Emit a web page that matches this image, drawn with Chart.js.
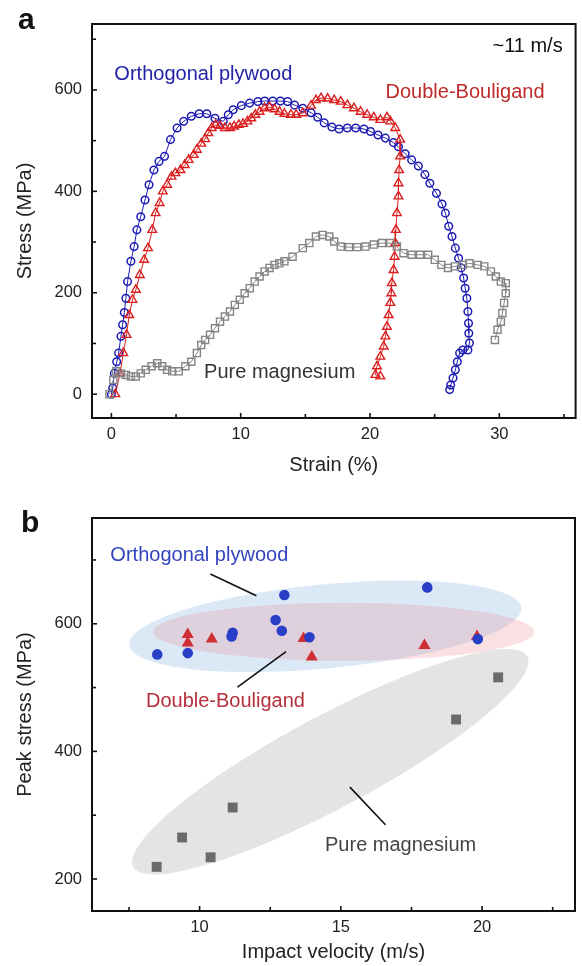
<!DOCTYPE html>
<html><head><meta charset="utf-8">
<script src="https://cdn.jsdelivr.net/npm/chart.js@4.4.1/dist/chart.umd.min.js"></script>
<style>
html,body{margin:0;padding:0;background:#fff;}
#wrap{position:relative;width:582px;height:966px;overflow:hidden;}
canvas{position:absolute;left:0;}
</style></head><body>
<div id="wrap">
<canvas id="ca" width="582" height="483" style="top:0"></canvas>
<canvas id="cb" width="582" height="483" style="top:483px"></canvas>
</div>
<script>
// ---------- Panel a: stress-strain curves (~11 m/s) ----------
const orthoStrain = [0,0.10,0.23,0.41,0.56,0.74,0.87,1.0,1.12,1.25,1.51,1.76,1.97,2.27,2.60,2.91,3.29,3.68,4.11,4.57,5.08,5.59,6.18,6.79,7.38,8.01,8.65,9.04,9.42,10.05,10.69,11.33,11.85,12.48,13.07,13.63,14.17,14.80,15.44,15.95,16.46,17.05,17.61,18.25,18.89,19.53,20.04,20.62,21.19,21.82,22.2,22.72,23.22,23.74,24.25,24.63,25.14,25.57,25.83,26.09,26.34,26.60,26.85,27.05,27.24,27.36,27.49,27.57,27.62,27.64,27.69,27.57,27.18,26.93,26.75,26.6,26.42,26.24,26.16];
const orthoStress = [0,12,41,64,81,114,137,161,189,222,262,291,324,350,383,413,442,459,469,502,525,538,548,553,553,544,538,551,561,569,574,577,578,578,578,577,570,564,555,546,535,527,523,525,525,523,518,511,505,496,488,474,462,450,433,416,396,375,357,331,311,288,268,249,229,209,189,163,140,120,101,87,87,81,64,48,32,18,9];

const dbStrain = [0.3,0.67,0.92,1.17,1.38,1.63,1.89,2.20,2.53,2.83,3.16,3.42,3.73,3.98,4.31,4.65,4.95,5.34,5.67,5.97,6.36,6.61,6.95,7.25,7.50,7.76,8.06,8.40,8.78,9.17,9.49,9.85,10.18,10.52,10.82,11.13,11.46,11.85,12.23,12.61,13.0,13.38,13.89,14.29,14.80,15.44,15.82,16.21,16.72,17.23,17.74,18.25,18.76,19.27,19.78,20.29,20.80,21.31,21.57,21.95,22.33,22.33,22.25,22.2,22.2,22.08,22.0,21.95,21.9,21.82,21.69,21.65,21.57,21.44,21.31,21.19,21.06,20.80,20.54,20.42,20.80];
const dbStress = [0,41,81,117,156,186,206,235,265,288,324,357,377,400,413,429,436,442,452,462,472,482,494,503,515,525,531,529,525,525,528,531,533,538,544,551,557,564,566,562,557,553,551,551,554,569,580,584,583,580,577,570,564,557,551,546,541,546,538,525,502,469,442,416,390,357,324,298,271,245,219,199,180,156,133,114,94,74,55,38,35];

const mgStrain = [-0.15,0.15,0.36,0.74,1.12,1.51,1.89,2.27,2.66,3.11,3.55,3.93,4.31,4.70,5.21,5.72,6.18,6.61,6.95,7.25,7.63,8.01,8.40,8.78,9.17,9.55,9.93,10.31,10.70,11.08,11.46,11.85,12.23,12.61,12.99,13.38,14.01,14.80,15.31,15.82,16.33,16.85,17.23,17.74,18.38,19.01,19.65,20.29,20.93,21.57,22.08,22.59,23.22,23.87,24.50,25.01,25.52,26.03,26.55,27.18,27.69,28.33,28.84,29.35,29.73,30.12,30.50,30.50,30.37,30.24,30.12,29.86,29.66];
const mgStress = [0,28,45,41,38,35,35,41,48,55,61,55,48,45,45,55,64,81,97,107,117,130,143,153,163,176,186,199,209,222,232,242,249,255,258,262,271,288,298,311,314,311,301,291,290,290,291,295,298,298,291,278,275,275,275,265,255,249,252,255,258,255,252,242,232,222,219,199,180,160,143,127,107];

const strainTicks = [0, 10, 20, 30];
const stressTicks = [0, 200, 400, 600];

// ---------- Panel b: peak stress vs impact velocity ----------
const orthoVel  = [8.50, 9.58, 11.13, 11.17, 12.69, 12.91, 13.00, 13.89, 18.06, 19.85];
const orthoPeak = [552, 554, 580, 586, 606, 589, 645, 579, 657, 576];
const dbVel  = [9.58, 9.58, 10.43, 13.68, 13.97, 17.96, 19.82];
const dbPeak = [583, 570, 576, 577, 548, 566, 580];
const mgVel  = [8.48, 9.38, 10.39, 11.17, 19.08, 20.57];
const mgPeak = [219, 265, 234, 312, 450, 516];

const velocityTicks = [10, 15, 20];
const peakTicks = [200, 400, 600];

// ---------- decorations ----------
const FONT = "'Liberation Sans', Arial, Helvetica, sans-serif";
const pts = (xs, ys) => xs.map((x, i) => ({x, y: ys[i]}));

const labelsA = [
  {text: 'Orthogonal plywood', x: 0.23, y: 631, align: 'left', color: '#2323a8'},
  {text: 'Double-Bouligand', x: 21.2, y: 594, align: 'left', color: '#bf2a2a'},
  {text: '~11 m/s', x: 34.9, y: 686, align: 'right', color: '#111'},
  {text: 'Pure magnesium', x: 7.17, y: 43, align: 'left', color: '#333'}
];
const labelsB = [
  {text: 'Orthogonal plywood', x: 6.84, y: 707.5, align: 'left', color: '#3445bd'},
  {text: 'Double-Bouligand', x: 8.10, y: 477.6, align: 'left', color: '#b5303d'},
  {text: 'Pure magnesium', x: 14.44, y: 252, align: 'left', color: '#444'}
];
const leadersB = [
  {x1: 10.38, y1: 678, x2: 12.01, y2: 644},
  {x1: 11.34, y1: 500.7, x2: 13.06, y2: 556.5},
  {x1: 15.32, y1: 344, x2: 16.58, y2: 285}
];
const ellipsesB = [
  {x1: 7.65, y1: 218.8, x2: 21.60, y2: 548.7, hw: 46, color: 'rgba(228,228,228,1)'},
  {x1: 7.51, y1: 567, x2: 21.39, y2: 625, hw: 42, color: 'rgba(190,215,240,0.55)'},
  {x1: 8.35, y1: 587.5, x2: 21.85, y2: 587.5, hw: 29, color: 'rgba(238,140,150,0.27)'}
];

function framePlugin(panelLetter, letterX, letterY) {
  return {
    id: 'frame' + panelLetter,
    afterDatasetsDraw(chart) {
      const {ctx, chartArea: a, scales} = chart;
      ctx.save();
      ctx.strokeStyle = '#111';
      ctx.lineWidth = 1.6;
      ['x', 'y'].forEach(id => {
        const s = scales[id];
        const major = s.ticks.map(t => t.value);
        const step = major[1] - major[0];
        const minor = [];
        for (let k = 0; k < 20; k++) {
          const v = major[0] - step / 2 + k * step;
          if (v > s.max) break;
          if (v >= s.min) minor.push(v);
        }
        const draw = (v, len) => {
          const p = s.getPixelForValue(v);
          ctx.beginPath();
          if (id === 'x') { ctx.moveTo(p, a.bottom); ctx.lineTo(p, a.bottom - len); }
          else { ctx.moveTo(a.left, p); ctx.lineTo(a.left + len, p); }
          ctx.stroke();
        };
        major.forEach(v => draw(v, 5));
        minor.forEach(v => draw(v, 4));
      });
      ctx.lineWidth = 2;
      ctx.strokeRect(a.left, a.top, a.right - a.left, a.bottom - a.top);
      ctx.fillStyle = '#111';
      ctx.font = 'bold 30px ' + FONT;
      ctx.textAlign = 'left';
      ctx.textBaseline = 'alphabetic';
      ctx.fillText(panelLetter, letterX, letterY);
      ctx.restore();
    }
  };
}

function labelPlugin(id, labels, hook) {
  return {
    id,
    [hook](chart) {
      const {ctx, scales: {x, y}} = chart;
      ctx.save();
      ctx.font = '20px ' + FONT;
      ctx.textBaseline = 'middle';
      labels.forEach(l => {
        ctx.fillStyle = l.color;
        ctx.textAlign = l.align;
        ctx.fillText(l.text, x.getPixelForValue(l.x), y.getPixelForValue(l.y));
      });
      ctx.restore();
    }
  };
}

const decoB = {
  id: 'decoB',
  beforeDatasetsDraw(chart) {
    const {ctx, chartArea: a, scales: {x, y}} = chart;
    ctx.save();
    ctx.beginPath();
    ctx.rect(a.left, a.top, a.right - a.left, a.bottom - a.top);
    ctx.clip();
    ellipsesB.forEach(e => {
      const x1 = x.getPixelForValue(e.x1), y1 = y.getPixelForValue(e.y1);
      const x2 = x.getPixelForValue(e.x2), y2 = y.getPixelForValue(e.y2);
      const cx = (x1 + x2) / 2, cy = (y1 + y2) / 2;
      const r = Math.hypot(x2 - x1, y2 - y1) / 2;
      const ang = Math.atan2(y2 - y1, x2 - x1);
      ctx.beginPath();
      ctx.ellipse(cx, cy, r, e.hw, ang, 0, Math.PI * 2);
      ctx.fillStyle = e.color;
      ctx.fill();
    });
    ctx.strokeStyle = '#111';
    ctx.lineWidth = 1.6;
    leadersB.forEach(l => {
      ctx.beginPath();
      ctx.moveTo(x.getPixelForValue(l.x1), y.getPixelForValue(l.y1));
      ctx.lineTo(x.getPixelForValue(l.x2), y.getPixelForValue(l.y2));
      ctx.stroke();
    });
    ctx.restore();
  }
};

function opts(cfg) {
  return {
    responsive: false,
    animation: false,
    devicePixelRatio: 1,
    layout: {padding: {left: 0, right: 2, top: cfg.padTop, bottom: 0}},
    plugins: {legend: {display: false}, tooltip: {enabled: false}},
    scales: {
      x: {
        type: 'linear', min: cfg.xmin, max: cfg.xmax,
        grid: {display: false, drawTicks: false},
        border: {display: false},
        ticks: {padding: 7, color: '#222', font: {size: 16.5, family: FONT}},
        afterBuildTicks(s) { s.ticks = cfg.xticks.map(v => ({value: v})); },
        title: {display: true, text: cfg.xtitle, color: '#222',
                font: {size: 20, family: FONT}, padding: {top: 0, bottom: cfg.xtPad}},
        afterFit(s) { s.height = cfg.xh; }
      },
      y: {
        type: 'linear', min: cfg.ymin, max: cfg.ymax,
        grid: {display: false, drawTicks: false},
        border: {display: false},
        ticks: {padding: 10, color: '#222', font: {size: 16.5, family: FONT}},
        afterBuildTicks(s) { s.ticks = cfg.yticks.map(v => ({value: v})); },
        title: {display: true, text: cfg.ytitle, color: '#222',
                font: {size: 20, family: FONT}, padding: {top: 13.5, bottom: 0}},
        afterFit(s) { s.width = 92; }
      }
    }
  };
}

new Chart(document.getElementById('ca'), {
  type: 'scatter',
  data: {
    datasets: [
      {data: pts(mgStrain, mgStress), showLine: true, borderColor: '#858585', borderWidth: 1,
       pointStyle: 'rect', pointRadius: 5, pointBorderColor: '#858585', pointBackgroundColor: 'rgba(255,255,255,0)', pointBorderWidth: 1.4},
      {data: pts(dbStrain, dbStress), showLine: true, borderColor: '#dc1e1e', borderWidth: 1,
       pointStyle: 'triangle', pointRadius: 5, pointBorderColor: '#dc1e1e', pointBackgroundColor: 'rgba(255,255,255,0)', pointBorderWidth: 1.4},
      {data: pts(orthoStrain, orthoStress), showLine: true, borderColor: '#1c1cb4', borderWidth: 1,
       pointStyle: 'circle', pointRadius: 3.8, pointBorderColor: '#1c1cb4', pointBackgroundColor: 'rgba(255,255,255,0)', pointBorderWidth: 1.5}
    ]
  },
  options: opts({padTop: 24, xmin: -1.5, xmax: 35.9, xticks: strainTicks, ymin: -47, ymax: 730, yticks: stressTicks,
                 xtitle: 'Strain (%)', ytitle: 'Stress (MPa)', xh: 65, xtPad: 6}),
  plugins: [labelPlugin('labA', labelsA, 'afterDatasetsDraw'), framePlugin('a', 18, 29)]
});

new Chart(document.getElementById('cb'), {
  type: 'scatter',
  data: {
    datasets: [
      {data: pts(mgVel, mgPeak), pointStyle: 'rect', pointRadius: 7, pointBackgroundColor: '#6a6a6a', pointBorderWidth: 0},
      {data: pts(orthoVel, orthoPeak), pointStyle: 'circle', pointRadius: 5.3, pointBackgroundColor: '#2a3fc8', pointBorderWidth: 0},
      {data: pts(dbVel, dbPeak), pointStyle: 'triangle', pointRadius: 7, pointBackgroundColor: '#cf2e33', pointBorderWidth: 0}
    ]
  },
  options: opts({padTop: 35, xmin: 6.19, xmax: 23.29, xticks: velocityTicks, ymin: 149.8, ymax: 765.8, yticks: peakTicks,
                 xtitle: 'Impact velocity (m/s)', ytitle: 'Peak stress (MPa)', xh: 55, xtPad: 1.5}),
  plugins: [decoB, labelPlugin('labB', labelsB, 'beforeDatasetsDraw'), framePlugin('b', 21, 49)]
});
</script>
</body></html>
